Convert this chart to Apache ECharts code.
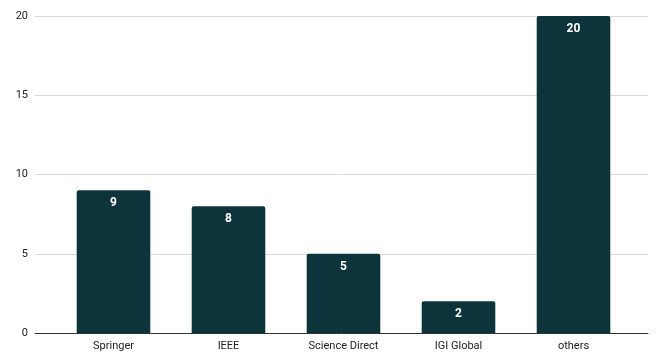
<!DOCTYPE html>
<html>
<head>
<meta charset="utf-8">
<script src="https://cdn.jsdelivr.net/npm/echarts@6/dist/echarts.min.js"></script>
<style>
  html, body { margin: 0; padding: 0; background: #fff; }
  #chart { width: 656px; height: 356px; }
</style>
</head>
<body>
<div id="chart"></div>
<script>
// data
var categories = ['Springer', 'IEEE', 'Science Direct', 'IGI Global', 'others'];
var counts = [9, 8, 5, 2, 20];
var yTicks = { min: 0, max: 20, step: 5 };

var myChart = echarts.init(document.getElementById('chart'));

var option = {
    backgroundColor: '#ffffff',
    animation: false,
    textStyle: { fontFamily: 'Roboto, Arial, sans-serif' },
    grid: [
        // full width grid: y axis, gridlines and baseline
        { left: 35, right: 8, top: 16, bottom: 23 },
        // narrower grid where the bars live
        { left: 56, right: 25, top: 16, bottom: 23 }
    ],
    xAxis: [
        {
            gridIndex: 0, type: 'category', data: [''],
            axisLine: { show: true, lineStyle: { color: '#333333', width: 1 } },
            axisTick: { show: false }, axisLabel: { show: false }
        },
        {
            gridIndex: 1, type: 'category', data: categories,
            axisLine: { show: false }, axisTick: { show: false },
            axisLabel: { color: '#222222', fontSize: 11, margin: 8 }
        }
    ],
    yAxis: [
        {
            gridIndex: 0, type: 'value',
            min: yTicks.min, max: yTicks.max, interval: yTicks.step,
            axisLine: { show: false }, axisTick: { show: false },
            axisLabel: { color: '#222222', fontSize: 11, margin: 7 },
            splitLine: { lineStyle: { color: '#d9d9d9', width: 1 } }
        },
        {
            gridIndex: 1, type: 'value',
            min: yTicks.min, max: yTicks.max, interval: yTicks.step,
            show: false, splitLine: { show: false }
        }
    ],
    series: [
        {
            type: 'bar',
            xAxisIndex: 1, yAxisIndex: 1,
            data: counts,
            barCategoryGap: '36%',
            itemStyle: { color: '#0e343b', borderRadius: [2, 2, 0, 0] },
            label: {
                show: true, position: 'insideTop', distance: 7,
                color: '#ffffff', fontWeight: 'bold', fontSize: 12
            }
        }
    ]
};

myChart.setOption(option);
</script>
</body>
</html>
